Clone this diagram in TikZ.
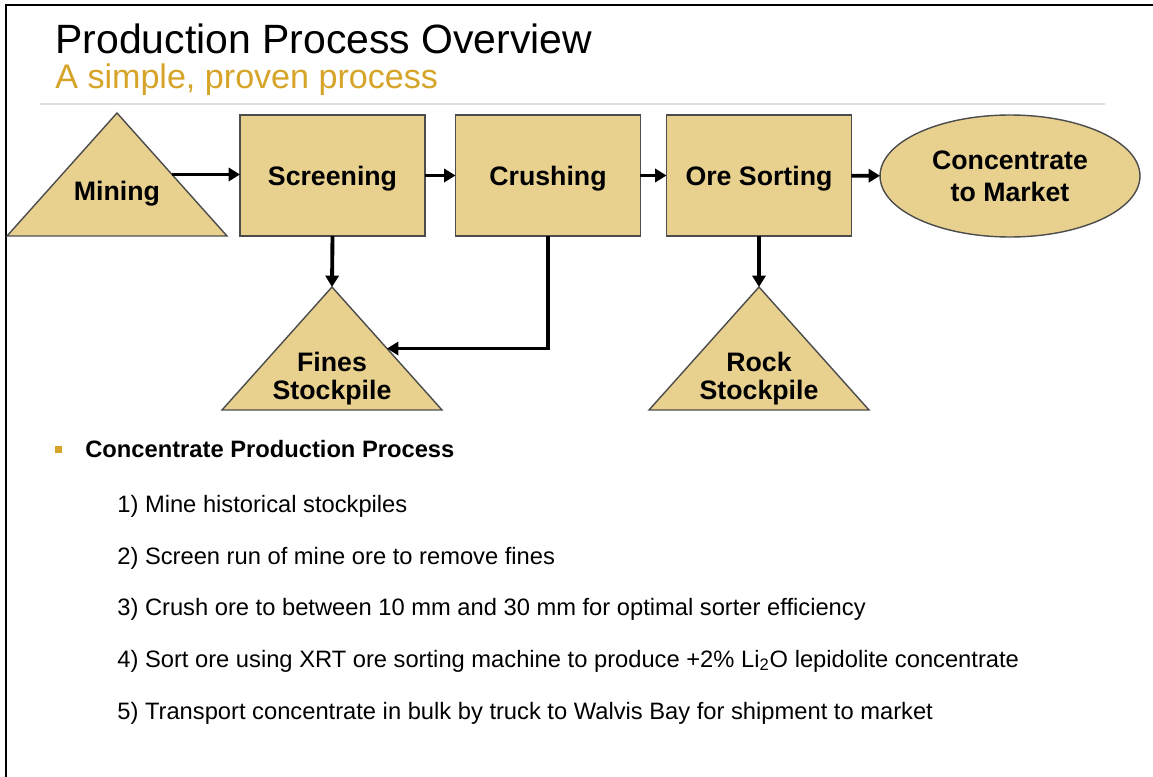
\documentclass[tikz,border=0pt]{standalone}
\usepackage{fontspec}
\setmainfont{Liberation Sans}
\usetikzlibrary{shapes.geometric,arrows.meta}
\definecolor{sand}{RGB}{232,209,143}
\definecolor{gold}{RGB}{214,164,40}
\tikzset{
  box/.style={draw=black!70,fill=sand,line width=0.8pt,minimum width=3.7cm,minimum height=2.42cm,inner sep=0pt,outer sep=0pt,text depth=0pt,font=\bfseries\fontsize{15.2}{18}\selectfont},
  pile/.style={draw=black!70,fill=sand,line width=0.8pt,isosceles triangle,isosceles triangle stretches,shape border rotate=90,minimum width=4.4cm,minimum height=2.46cm,inner sep=0pt,outer sep=0pt,anchor=apex},
  pilelabel/.style={align=center,font=\bfseries\fontsize{15.2}{16}\selectfont},
  flow/.style={line width=2.2pt,-{Triangle[length=6.5pt,width=7.5pt]}},
  item/.style={anchor=base west,inner sep=0pt,font=\fontsize{13.5}{16}\selectfont}
}

\begin{document}
\begin{tikzpicture}[x=0.02cm,y=-0.02cm]
\useasboundingbox (0,0) rectangle (1153,777);
\draw[line width=1.7pt] (6,777) -- (6,5) -- (1153,5);
\draw (55,54) node[anchor=base west,inner sep=0pt,font=\fontsize{23.3}{27}\selectfont] (title) {Production Process Overview};
\draw (55,89) node[anchor=base west,inner sep=0pt,text=gold,font=\fontsize{19.4}{23}\selectfont] (subtitle) {A simple, proven process};
\draw[black!12,line width=0.6pt] (40,104) -- (1105,104);

\node[pile] (mine) at (117,113) {};
\node[pilelabel] (minelabel) at (117,194) {Mining};
\node[box] (screen) at (332.5,175.5) {Screening};
\node[box] (crush) at (548,175.5) {Crushing};
\node[box] (sort) at (759,175.5) {Ore Sorting};
\node[draw=black!70,fill=sand,line width=0.8pt,ellipse,minimum width=5.2cm,minimum height=2.44cm,inner sep=0pt,outer sep=0pt,align=center,font=\bfseries\fontsize{15.2}{18}\selectfont] (market) at (1010,176) {Concentrate\\to Market};
\node[pile] (fines) at (332,287) {};
\node[pilelabel] (fineslabel) at (332,379) {Fines\\Stockpile};
\node[pile] (rock) at (759,287) {};
\node[pilelabel] (rocklabel) at (759,379) {Rock\\Stockpile};

\draw[flow] (mine.right side) -- (mine.right side -| screen.west);
\draw[flow] (screen) -- (crush);
\draw[flow] (crush) -- (sort);
\draw[flow] (sort) -- (market);
\draw[flow] (screen.south) -- (fines.apex);
\draw[flow] (crush.south) |- (fines.right side);
\draw[flow] (sort.south) -- (rock.apex);

\fill[gold] (55,446) rectangle (62,453);
\node[anchor=base west,inner sep=0pt,font=\bfseries\fontsize{13.5}{16}\selectfont] (heading) at (85,457) {Concentrate Production Process};
\node[item] (step1) at (117,512) {1) Mine historical stockpiles};
\node[item] (step2) at (117,564) {2) Screen run of mine ore to remove fines};
\node[item] (step3) at (117,615) {3) Crush ore to between 10 mm and 30 mm for optimal sorter efficiency};
\node[item] (step4) at (117,667) {4) Sort ore using XRT ore sorting machine to produce +2\% Li\textsubscript{2}O lepidolite concentrate};
\node[item] (step5) at (117,719) {5) Transport concentrate in bulk by truck to Walvis Bay for shipment to market};
\end{tikzpicture}
\end{document}
